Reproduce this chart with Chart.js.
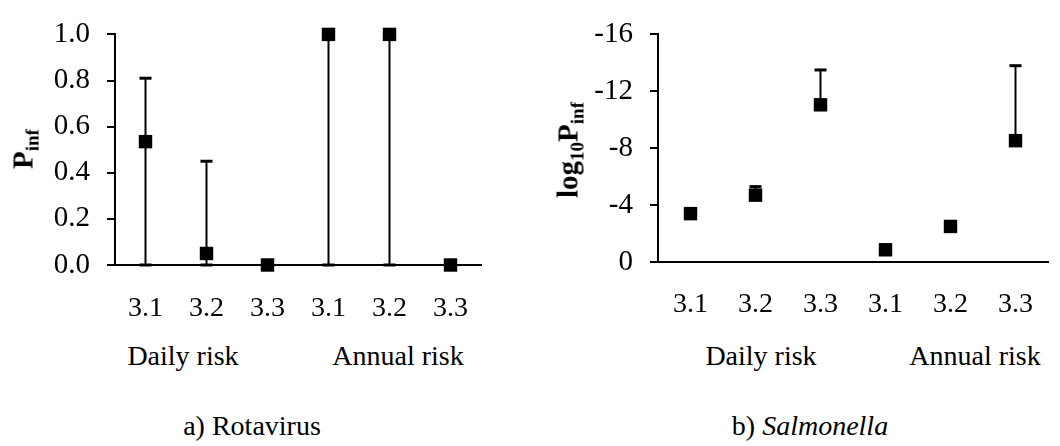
<!DOCTYPE html>
<html>
<head>
<meta charset="utf-8">
<script src="https://cdn.jsdelivr.net/npm/chart.js@4/dist/chart.umd.min.js"></script>
<style>
  html, body { margin: 0; padding: 0; background: #fff; }
  body { width: 1060px; height: 446px; position: relative; overflow: hidden;
         font-family: "Liberation Serif", "Times New Roman", serif; color: #000; }
  .cv { position: absolute; top: 0; }
  .lbl { position: absolute; transform: translate(-50%, -50%); white-space: nowrap;
         font-size: 28px; line-height: 28px; }
  .ytitle { position: absolute; transform: translate(-50%, -50%) rotate(-90deg);
            white-space: nowrap; font-weight: bold; font-size: 29px; line-height: 29px; }
  .ytitle sub { font-size: 19px; line-height: 0; vertical-align: -6px; }
</style>
</head>
<body>
<canvas id="left" class="cv" width="520" height="340" style="left:0px"></canvas>
<canvas id="right" class="cv" width="540" height="340" style="left:520px"></canvas>

<div class="ytitle" style="left:23px; top:149px">P<sub>inf</sub></div>
<div class="ytitle" style="left:568px; top:150px">log<sub>10</sub>P<sub>inf</sub></div>

<div class="lbl" id="gL0" style="left:183px; top:356px"></div>
<div class="lbl" id="gL1" style="left:398px; top:356px"></div>
<div class="lbl" id="gR0" style="left:761px; top:356px"></div>
<div class="lbl" id="gR1" style="left:975px; top:356px"></div>

<div class="lbl" style="left:252px; top:426px">a) Rotavirus</div>
<div class="lbl" style="left:810px; top:426px">b) <i>Salmonella</i></div>

<script>
// ---- data ----
const categories = ['3.1', '3.2', '3.3', '3.1', '3.2', '3.3'];
const groupLabels = ['Daily risk', 'Annual risk'];

// a) Rotavirus, P_inf
const rotaValues = [0.535, 0.05, 0, 1.0, 1.0, 0];
const rotaLower  = [0, 0, null, 0, 0, null];
const rotaUpper  = [0.81, 0.45, null, 1.0, 1.0, null];

// b) Salmonella, log10 P_inf
const salmValues = [-3.4, -4.7, -11.05, -0.86, -2.5, -8.53];
const salmLower  = [null, null, null, null, null, null];
const salmUpper  = [null, -5.3, -13.5, null, null, -13.8];

document.getElementById('gL0').textContent = groupLabels[0];
document.getElementById('gL1').textContent = groupLabels[1];
document.getElementById('gR0').textContent = groupLabels[0];
document.getElementById('gR1').textContent = groupLabels[1];

const FONT = '"Liberation Serif", "Times New Roman", serif';

const errorBars = {
  id: 'errorBars',
  beforeDatasetsDraw(chart, args, opts) {
    const { ctx } = chart;
    const x = chart.scales.x, y = chart.scales.y;
    const vals = opts.values, lo = opts.lower, hi = opts.upper;
    ctx.save();
    ctx.strokeStyle = '#000';
    for (let i = 0; i < vals.length; i++) {
      if (hi[i] == null) continue;
      const px = x.getPixelForValue(i);
      const yTop = y.getPixelForValue(hi[i]);
      const yBot = y.getPixelForValue(lo[i] != null ? lo[i] : vals[i]);
      ctx.lineWidth = 2;
      ctx.beginPath(); ctx.moveTo(px, yTop); ctx.lineTo(px, yBot); ctx.stroke();
      ctx.lineWidth = 3;
      ctx.beginPath(); ctx.moveTo(px - 6, yTop); ctx.lineTo(px + 6, yTop); ctx.stroke();
      if (lo[i] != null) {
        ctx.beginPath(); ctx.moveTo(px - 6, yBot); ctx.lineTo(px + 6, yBot); ctx.stroke();
      }
    }
    ctx.restore();
  }
};

function makeChart(id, values, lower, upper, yOpts, pad, yWidth, xHeight, xPad) {
  return new Chart(document.getElementById(id), {
    type: 'line',
    data: {
      labels: categories,
      datasets: [{
        data: values,
        showLine: false,
        pointStyle: 'rect',
        pointRadius: 9.5,
        pointHoverRadius: 9.5,
        pointBorderWidth: 0,
        backgroundColor: '#000',
        borderColor: '#000',
        clip: false
      }]
    },
    options: {
      responsive: false,
      animation: false,
      devicePixelRatio: 1,
      events: [],
      layout: { padding: pad },
      plugins: {
        legend: { display: false },
        tooltip: { enabled: false },
        errorBars: { values: values, lower: lower, upper: upper }
      },
      scales: {
        x: {
          type: 'category',
          offset: true,
          grid: { display: false, drawTicks: false },
          border: { display: true, color: '#000', width: 2 },
          ticks: { color: '#000', font: { family: FONT, size: 28 }, padding: xPad,
                   maxRotation: 0, autoSkip: false },
          afterFit(s) { s.height = xHeight; }
        },
        y: Object.assign({
          grid: { display: true, drawOnChartArea: false, drawTicks: true, tickLength: 8,
                  color: '#000', lineWidth: 2 },
          border: { display: true, color: '#000', width: 2 },
          afterFit(s) { s.width = yWidth; }
        }, yOpts)
      }
    },
    plugins: [errorBars]
  });
}

makeChart('left', rotaValues, rotaLower, rotaUpper, {
  min: 0, max: 1,
  ticks: { stepSize: 0.2, color: '#000', font: { family: FONT, size: 29 }, padding: 17,
           callback: v => Number(v).toFixed(1) }
}, { top: 21, right: 39, left: 0, bottom: 0 }, 115, 75, 27);

makeChart('right', salmValues, salmLower, salmUpper, {
  min: -16, max: 0, reverse: true,
  ticks: { stepSize: 4, color: '#000', font: { family: FONT, size: 29 }, padding: 17,
           callback: v => String(v) }
}, { top: 26, right: 12, left: 0, bottom: 0 }, 138, 78, 26);
</script>
</body>
</html>
